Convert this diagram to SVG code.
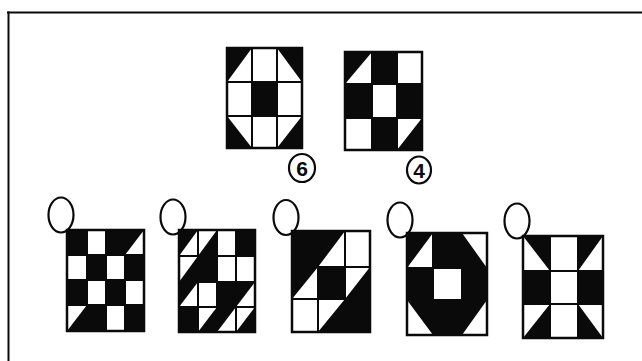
<svg xmlns="http://www.w3.org/2000/svg" width="642" height="361" viewBox="0 0 642 361">
<style>
.bg{fill:#fff}
.k{fill:#0a0a0a}
.g{fill:none;stroke:#0a0a0a;stroke-width:2;stroke-linejoin:round}
.o{fill:none;stroke:#0a0a0a;stroke-width:2.5}
.c{fill:none;stroke:#0a0a0a;stroke-width:2.2}
.t{font-family:"Liberation Sans",Arial,sans-serif;font-size:21px;font-weight:bold;fill:#0a0a0a;text-anchor:middle}
</style>
<rect width="642" height="361" fill="#fff"/>
<g id="frame">
<line x1="7" y1="12.5" x2="642" y2="12.5" stroke="#0a0a0a" stroke-width="2.2"/>
<line x1="8.5" y1="11.5" x2="8.5" y2="361" stroke="#0a0a0a" stroke-width="2"/>
</g>
<g id="fig1">
<rect class="bg" x="227" y="48" width="75" height="100"/>
<polygon class="k" points="227,48 252,48 227,82"/>
<polygon class="k" points="277,48 302,48 302,82"/>
<rect class="k" x="252" y="82" width="25" height="34"/>
<polygon class="k" points="227,116 227,148 252,148"/>
<polygon class="k" points="302,116 302,148 277,148"/>
<path class="g" d="M252,48V148M277,48V148M227,82H302M227,116H302"/>
<rect class="o" x="227" y="48" width="75" height="100"/>
</g>
<g id="fig2">
<rect class="bg" x="345" y="52" width="77" height="98"/>
<polygon class="k" points="345,52 372,52 345,84"/>
<rect class="k" x="372" y="52" width="25" height="32"/>
<rect class="k" x="345" y="84" width="27" height="34"/>
<rect class="k" x="397" y="84" width="25" height="34"/>
<rect class="k" x="372" y="118" width="25" height="32"/>
<polygon class="k" points="422,118 422,150 397,150"/>
<path class="g" d="M372,52V150M397,52V150M345,84H422M345,118H422"/>
<rect class="o" x="345" y="52" width="77" height="98"/>
</g>
<g id="label6">
<ellipse class="c" cx="302" cy="168" rx="13" ry="14"/>
<text class="t" x="302" y="175.5">6</text>
</g>
<g id="label4">
<ellipse class="c" cx="419" cy="170" rx="12" ry="13.5"/>
<text class="t" x="419" y="177.5">4</text>
</g>
<g id="figA">
<ellipse class="c" cx="61" cy="215" rx="12.5" ry="17.5"/>
<rect class="bg" x="67" y="230" width="77" height="101"/>
<rect class="k" x="67" y="230" width="20" height="25"/>
<rect class="k" x="106" y="230" width="19" height="25"/>
<polygon class="k" points="125,230 144,230 125,255"/>
<rect class="k" x="87" y="255" width="19" height="25"/>
<rect class="k" x="125" y="255" width="19" height="25"/>
<rect class="k" x="67" y="280" width="20" height="25"/>
<rect class="k" x="106" y="280" width="19" height="25"/>
<polygon class="k" points="87,305 87,331 67,331"/>
<rect class="k" x="87" y="305" width="19" height="26"/>
<rect class="k" x="125" y="305" width="19" height="26"/>
<path class="g" d="M87,230V331M106,230V331M125,230V331M67,255H144M67,280H144M67,305H144"/>
<rect class="o" x="67" y="230" width="77" height="101"/>
</g>
<g id="figB">
<ellipse class="c" cx="173" cy="217" rx="12.5" ry="17.5"/>
<rect class="bg" x="179" y="230" width="76" height="102"/>
<polygon class="k" points="179,230 198,230 179,256"/>
<polygon class="k" points="217,230 217,256 198,256"/>
<rect class="k" x="236" y="230" width="19" height="26"/>
<polygon class="k" points="198,256 198,282 179,282"/>
<rect class="k" x="198" y="256" width="19" height="26"/>
<polygon class="k" points="179,282 198,282 179,307"/>
<rect class="k" x="217" y="282" width="19" height="25"/>
<polygon class="k" points="236,282 255,282 236,307"/>
<rect class="k" x="179" y="307" width="19" height="25"/>
<polygon class="k" points="217,307 217,332 198,332"/>
<polygon class="k" points="217,307 236,307 217,332"/>
<polygon class="k" points="255,307 255,332 236,332"/>
<path class="g" d="M198,230V332M217,230V332M236,230V332M179,256H255M179,282H255M179,307H255"/>
<rect class="o" x="179" y="230" width="76" height="102"/>
</g>
<g id="figC">
<ellipse class="c" cx="286" cy="217.5" rx="12.5" ry="17.5"/>
<rect class="bg" x="292" y="231" width="78" height="101"/>
<rect class="k" x="292" y="231" width="26" height="36"/>
<polygon class="k" points="318,231 345,231 318,267"/>
<polygon class="k" points="292,267 318,267 292,299"/>
<rect class="k" x="318" y="267" width="27" height="32"/>
<polygon class="k" points="370,267 370,299 345,299"/>
<polygon class="k" points="345,299 345,332 318,332"/>
<rect class="k" x="345" y="299" width="25" height="33"/>
<path class="g" d="M318,231V332M345,231V332M292,267H370M292,299H370"/>
<rect class="o" x="292" y="231" width="78" height="101"/>
</g>
<g id="figD">
<ellipse class="c" cx="400" cy="220" rx="12.5" ry="17.5"/>
<rect class="bg" x="407" y="233" width="80" height="102"/>
<polygon class="k" points="407,233 433,233 407,268"/>
<rect class="k" x="433" y="233" width="29" height="35"/>
<polygon class="k" points="462,233 462,268 487,268"/>
<rect class="k" x="407" y="268" width="26" height="32"/>
<rect class="k" x="462" y="268" width="25" height="32"/>
<polygon class="k" points="407,300 433,300 433,335"/>
<rect class="k" x="433" y="300" width="29" height="35"/>
<polygon class="k" points="462,300 487,300 462,335"/>
<path class="g" d="M433,233V335M462,233V335M407,268H487M407,300H487"/>
<rect class="o" x="407" y="233" width="80" height="102"/>
</g>
<g id="figE">
<ellipse class="c" cx="517" cy="221" rx="12.5" ry="17.5"/>
<rect class="bg" x="523" y="236" width="80" height="102"/>
<polygon class="k" points="523,236 550,236 550,271"/>
<polygon class="k" points="578,236 603,236 578,271"/>
<rect class="k" x="523" y="271" width="27" height="33"/>
<rect class="k" x="578" y="271" width="25" height="33"/>
<polygon class="k" points="550,304 550,338 523,338"/>
<polygon class="k" points="578,304 578,338 603,338"/>
<path class="g" d="M550,236V338M578,236V338M523,271H603M523,304H603"/>
<rect class="o" x="523" y="236" width="80" height="102"/>
</g>
<g id="connectors"></g>
</svg>
